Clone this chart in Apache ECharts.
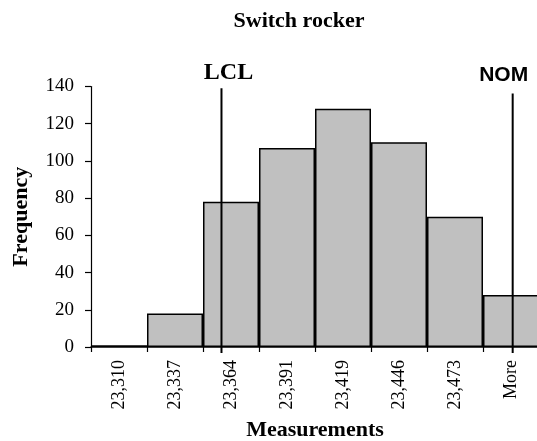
<!DOCTYPE html>
<html>
<head>
<meta charset="utf-8">
<script src="https://cdn.jsdelivr.net/npm/echarts@6/dist/echarts.min.js"></script>
<style>
html,body{margin:0;padding:0;background:#fff;}
#chart{width:537px;height:441px;}
</style>
</head>
<body>
<div id="chart"></div>
<script>
// Data
const categories = ['23,310','23,337','23,364','23,391','23,419','23,446','23,473','More'];
const frequencies = [1, 18, 78, 107, 128, 110, 70, 28];
// Reference lines, in bin units along the axis (0 = left edge of first bin) and frequency units
const lclLine = [[2.33, -3.2], [2.33, 139]];
const nomLine = [[7.53, -3.2], [7.53, 136.3]];
const lineNames = ['LCL', 'NOM'];

const serif = 'Liberation Serif';
const chart = echarts.init(document.getElementById('chart'));
chart.setOption({
  animation: false,
  backgroundColor: '#fff',
  title: {
    text: 'Switch rocker',
    left: 294, top: 5, textAlign: 'center',
    textStyle: { fontFamily: serif, fontWeight: 'bold', fontSize: 22, color: '#000' }
  },
  grid: { left: 91, top: 86.5, width: 448, height: 260.5, containLabel: false, outerBoundsMode: 'none' },
  xAxis: [{
    type: 'category',
    data: categories,
    name: 'Measurements',
    nameLocation: 'middle',
    nameGap: 72,
    nameTextStyle: { fontFamily: serif, fontWeight: 'bold', fontSize: 22, color: '#000' },
    axisLine: { lineStyle: { color: '#000', width: 1.5 } },
    axisTick: { show: true, length: 5, lineStyle: { color: '#000', width: 1.2 } },
    axisLabel: { rotate: 90, margin: 13, fontFamily: serif, fontSize: 18, color: '#000' }
  }, {
    type: 'value', min: 0, max: 8, show: false
  }],
  yAxis: {
    type: 'value', min: 0, max: 140, interval: 20,
    name: 'Frequency',
    nameLocation: 'middle',
    nameGap: 59,
    nameTextStyle: { fontFamily: serif, fontWeight: 'bold', fontSize: 22, color: '#000' },
    axisLine: { show: true, lineStyle: { color: '#000', width: 1.2 } },
    axisTick: { show: true, length: 6, lineStyle: { color: '#000', width: 1.2 } },
    axisLabel: { margin: 17, fontFamily: serif, fontSize: 19, color: '#000' },
    splitLine: { show: false }
  },
  series: [{
    type: 'bar',
    data: frequencies,
    barCategoryGap: '0%',
    itemStyle: { color: '#c0c0c0', borderColor: '#000', borderWidth: 1.5 }
  }, {
    type: 'line',
    xAxisIndex: 1,
    clip: false,
    data: [lclLine[0], { value: lclLine[1], label: { show: true, formatter: lineNames[0], position: 'top', distance: 4, offset: [7, 0], fontFamily: serif, fontWeight: 'bold', fontSize: 24, color: '#000' } }],
    symbol: 'circle', symbolSize: 0,
    lineStyle: { color: '#000', width: 2 },
    z: 5
  }, {
    type: 'line',
    xAxisIndex: 1,
    clip: false,
    data: [nomLine[0], { value: nomLine[1], label: { show: true, formatter: lineNames[1], position: 'top', distance: 8, offset: [-9, 0], fontFamily: 'Liberation Sans', fontWeight: 'bold', fontSize: 21, color: '#000' } }],
    symbol: 'circle', symbolSize: 0,
    lineStyle: { color: '#000', width: 2 },
    z: 5
  }]
});
</script>
</body>
</html>
